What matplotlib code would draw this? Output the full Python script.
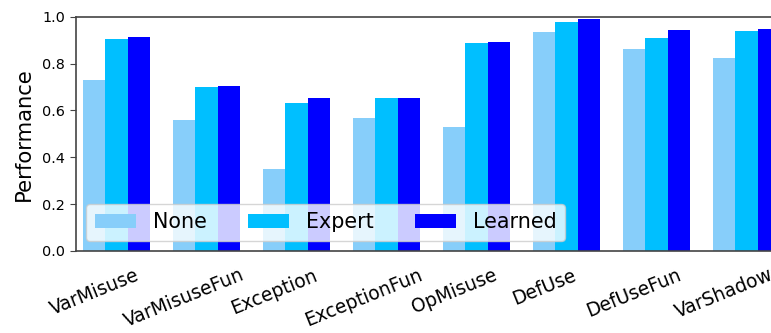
import numpy as np
import matplotlib
matplotlib.use("Agg")
import matplotlib.pyplot as plt

# Task categories and performance of each configuration
categories = ["VarMisuse", "VarMisuseFun", "Exception", "ExceptionFun",
              "OpMisuse", "DefUse", "DefUseFun", "VarShadow"]
none_vals = [0.730, 0.559, 0.350, 0.568, 0.529, 0.935, 0.862, 0.824]
expert_vals = [0.905, 0.700, 0.632, 0.654, 0.888, 0.977, 0.909, 0.939]
learned_vals = [0.913, 0.704, 0.654, 0.654, 0.892, 0.990, 0.943, 0.947]
series_names = ["None", "Expert", "Learned"]
yticks = [0.0, 0.2, 0.4, 0.6, 0.8, 1.0]

colors = ["#87CEFA", "#00BFFF", "#0000FF"]
width = 0.25

fig = plt.figure(figsize=(7.71, 3.33), dpi=100)
# axes extend past the right edge of the canvas
ax = fig.add_axes([76 / 771, (333 - 251) / 333, 711 / 771, 234.3 / 333])

x = np.arange(len(categories))
for k, (vals, name) in enumerate(zip([none_vals, expert_vals, learned_vals], series_names)):
    ax.bar(x + k * width, vals, width, color=colors[k], label=name)

ax.margins(x=0.01)
ax.set_ylim(0, 1.0)
ax.set_yticks(yticks)
ax.set_yticklabels([f"{t:.1f}" for t in yticks], fontsize=10.4)
ax.set_xticks(x)
ax.set_xticklabels(categories, rotation=22, ha="center", fontsize=13.4)
ax.tick_params(axis="x", length=0, pad=10.5)
ax.tick_params(axis="y", length=4.5, color="#444444")
ax.set_ylabel("Performance", fontsize=15.2, labelpad=6)
for s in ax.spines.values():
    s.set_color("#444444")
    s.set_linewidth(1.2)

ax.legend(loc="lower left", ncol=3, fontsize=14.9)

fig.savefig("out.png", dpi=100)
